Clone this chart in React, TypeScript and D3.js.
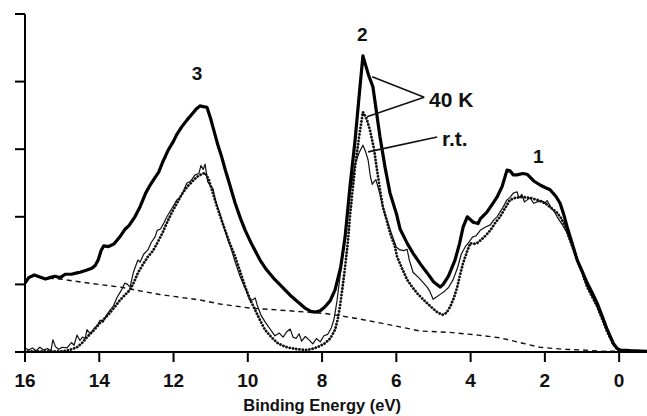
import React from "react";
import * as d3 from "d3";

// Binding energy (eV) vs intensity (arb. units; one y tick = 1 unit)
const xTicks = [16, 14, 12, 10, 8, 6, 4, 2, 0];
const yTicks = [0, 1, 2, 3, 4, 5];
const xLabel = "Binding Energy (eV)";

// 40 K spectrum (thick solid)
const spectrum40KBold: [number, number][] = [
  [16.0,1.02],[15.9,1.10],[15.75,1.14],[15.6,1.11],[15.45,1.08],[15.33,1.10],[15.2,1.12],[15.05,1.10],[14.92,1.15],[14.75,1.15],[14.6,1.17],[14.52,1.18],[14.35,1.21],[14.2,1.24],[14.11,1.28],[14.03,1.36],[13.95,1.50],[13.88,1.57],[13.75,1.56],[13.6,1.60],[13.45,1.70],[13.3,1.82],[13.2,1.87],[13.04,2.00],[12.9,2.15],[12.75,2.35],[12.63,2.47],[12.5,2.58],[12.4,2.66],[12.3,2.80],[12.15,2.98],[12.0,3.12],[11.91,3.22],[11.78,3.33],[11.64,3.43],[11.5,3.52],[11.38,3.60],[11.29,3.64],[11.2,3.63],[11.1,3.62],[11.0,3.45],[10.94,3.33],[10.8,3.05],[10.7,2.88],[10.61,2.70],[10.5,2.50],[10.34,2.20],[10.2,1.98],[10.07,1.80],[9.9,1.60],[9.67,1.36],[9.5,1.22],[9.27,1.07],[9.05,0.95],[8.86,0.84],[8.65,0.74],[8.46,0.65],[8.3,0.60],[8.19,0.59],[8.05,0.61],[7.92,0.67],[7.78,0.76],[7.65,0.92],[7.5,1.25],[7.38,1.70],[7.25,2.44],[7.11,3.14],[7.0,3.8],[6.90,4.38],[6.75,4.10],[6.63,3.92],[6.44,3.18],[6.3,2.72],[6.17,2.35],[6.0,2.05],[5.90,1.82],[5.7,1.60],[5.55,1.46],[5.35,1.30],[5.17,1.17],[5.0,1.04],[4.82,0.96],[4.74,1.00],[4.6,1.12],[4.42,1.36],[4.3,1.60],[4.2,1.85],[4.09,2.00],[3.93,1.92],[3.80,1.90],[3.74,1.97],[3.56,2.07],[3.4,2.20],[3.29,2.29],[3.15,2.45],[3.02,2.69],[2.94,2.68],[2.85,2.62],[2.75,2.62],[2.6,2.64],[2.48,2.63],[2.3,2.53],[2.13,2.47],[1.98,2.43],[1.86,2.40],[1.7,2.30],[1.59,2.20],[1.5,2.05],[1.40,1.85],[1.25,1.58],[1.13,1.36],[1.0,1.20],[0.86,1.02],[0.72,0.87],[0.59,0.72],[0.45,0.52],[0.32,0.33],[0.16,0.13],[0.05,0.05],[-0.03,0.03],[-0.3,0.02],[-0.75,0.01]
];

// 40 K spectrum (dotted)
const spectrum40KDotted: [number, number][] = [
  [16.0,0.01],[15.5,0.01],[15.0,0.01],[14.8,0.03],[14.6,0.07],[14.45,0.14],[14.33,0.22],[14.15,0.32],[13.98,0.43],[13.85,0.50],[13.71,0.58],[13.58,0.67],[13.44,0.77],[13.3,0.85],[13.17,0.92],[13.05,1.05],[12.96,1.17],[12.82,1.30],[12.69,1.41],[12.55,1.50],[12.44,1.61],[12.3,1.76],[12.18,1.91],[12.05,2.06],[11.91,2.20],[11.78,2.33],[11.64,2.44],[11.5,2.52],[11.37,2.59],[11.25,2.63],[11.15,2.65],[11.05,2.55],[10.94,2.35],[10.8,2.10],[10.61,1.80],[10.48,1.60],[10.34,1.41],[10.2,1.18],[10.07,0.96],[9.94,0.78],[9.80,0.62],[9.67,0.47],[9.54,0.33],[9.35,0.21],[9.19,0.13],[9.0,0.08],[8.86,0.06],[8.65,0.04],[8.46,0.03],[8.3,0.04],[8.19,0.06],[8.05,0.09],[7.92,0.13],[7.78,0.20],[7.65,0.33],[7.58,0.48],[7.52,0.67],[7.45,0.95],[7.38,1.26],[7.3,1.65],[7.25,2.00],[7.18,2.38],[7.11,2.74],[7.0,3.20],[6.90,3.55],[6.8,3.45],[6.71,3.28],[6.6,3.00],[6.52,2.69],[6.44,2.40],[6.36,2.14],[6.25,1.93],[6.17,1.76],[6.05,1.58],[5.98,1.41],[5.85,1.24],[5.71,1.07],[5.57,0.96],[5.44,0.87],[5.3,0.79],[5.17,0.72],[5.03,0.65],[4.90,0.59],[4.80,0.56],[4.74,0.55],[4.65,0.58],[4.55,0.67],[4.45,0.80],[4.36,0.96],[4.28,1.15],[4.20,1.32],[4.1,1.48],[4.01,1.61],[3.9,1.60],[3.8,1.62],[3.74,1.65],[3.6,1.72],[3.47,1.80],[3.35,1.90],[3.21,2.00],[3.08,2.12],[2.94,2.25],[2.8,2.28],[2.67,2.29],[2.55,2.29],[2.40,2.28],[2.2,2.25],[1.99,2.20],[1.85,2.14],[1.67,2.06],[1.55,1.97],[1.45,1.85],[1.3,1.62],[1.13,1.36],[1.0,1.18],[0.86,0.96],[0.72,0.81],[0.59,0.67],[0.45,0.48],[0.32,0.30],[0.16,0.12],[0.05,0.04],[-0.03,0.02],[-0.4,0.01],[-0.75,0.01]
];

// room temperature spectrum (thin solid)
const spectrumRT: [number, number][] = [
  [16.0,0.06],[15.9,0.03],[15.8,0.06],[15.7,0.02],[15.6,0.07],[15.5,0.03],[15.4,0.05],[15.3,0.02],[15.25,0.18],[15.18,0.08],[15.1,0.04],[15.0,0.07],[14.87,0.06],[14.75,0.14],[14.68,0.10],[14.6,0.25],[14.52,0.17],[14.45,0.22],[14.38,0.20],[14.33,0.33],[14.25,0.27],[14.15,0.34],[14.05,0.40],[13.98,0.47],[13.9,0.44],[13.8,0.55],[13.71,0.62],[13.62,0.68],[13.52,0.81],[13.42,0.90],[13.31,1.02],[13.24,1.00],[13.17,0.96],[13.08,1.18],[12.96,1.36],[12.9,1.33],[12.8,1.45],[12.69,1.51],[12.6,1.62],[12.5,1.70],[12.44,1.80],[12.35,1.82],[12.25,1.92],[12.18,2.00],[12.05,2.12],[11.91,2.25],[11.8,2.30],[11.72,2.40],[11.64,2.50],[11.55,2.52],[11.42,2.62],[11.32,2.64],[11.26,2.76],[11.2,2.70],[11.15,2.78],[11.08,2.52],[11.0,2.45],[10.94,2.42],[10.85,2.20],[10.75,2.05],[10.65,1.85],[10.55,1.68],[10.48,1.58],[10.35,1.35],[10.21,1.12],[10.1,0.98],[10.0,0.85],[9.94,0.76],[9.85,0.78],[9.8,0.80],[9.75,0.70],[9.65,0.55],[9.54,0.45],[9.45,0.38],[9.35,0.30],[9.27,0.24],[9.15,0.28],[9.05,0.22],[8.95,0.30],[8.86,0.34],[8.78,0.22],[8.7,0.20],[8.62,0.27],[8.55,0.16],[8.45,0.23],[8.35,0.18],[8.25,0.12],[8.15,0.20],[8.05,0.15],[7.95,0.24],[7.85,0.26],[7.75,0.36],[7.68,0.48],[7.6,0.75],[7.52,1.10],[7.45,1.42],[7.38,1.76],[7.3,2.15],[7.2,2.50],[7.11,2.78],[7.0,2.95],[6.90,3.06],[6.82,2.95],[6.76,2.84],[6.7,2.60],[6.65,2.48],[6.6,2.52],[6.55,2.55],[6.45,2.35],[6.36,2.14],[6.25,1.95],[6.11,1.72],[6.0,1.55],[5.9,1.51],[5.8,1.50],[5.71,1.52],[5.65,1.36],[5.55,1.18],[5.4,1.10],[5.3,1.04],[5.17,0.96],[5.1,0.90],[5.01,0.78],[4.9,0.82],[4.8,0.86],[4.7,0.90],[4.6,0.95],[4.47,1.07],[4.35,1.25],[4.25,1.45],[4.15,1.55],[4.05,1.62],[3.95,1.70],[3.85,1.72],[3.74,1.80],[3.6,1.85],[3.47,1.88],[3.38,1.95],[3.29,2.00],[3.15,2.12],[3.02,2.25],[2.95,2.28],[2.85,2.35],[2.75,2.37],[2.7,2.28],[2.62,2.33],[2.55,2.22],[2.48,2.25],[2.4,2.28],[2.3,2.20],[2.21,2.22],[2.1,2.24],[2.0,2.20],[1.94,2.24],[1.85,2.15],[1.75,2.08],[1.67,2.00],[1.55,1.90],[1.40,1.76],[1.25,1.55],[1.13,1.36],[1.0,1.18],[0.86,0.96],[0.72,0.82],[0.59,0.67],[0.45,0.48],[0.32,0.30],[0.16,0.12],[0.05,0.05],[-0.03,0.03],[-0.2,0.01],[-0.4,0.02],[-0.75,0.01]
];

// background (dashed)
const background: [number, number][] = [
  [15.6,1.10],[15.06,1.08],[14.3,1.02],[13.44,0.96],[12.37,0.85],[11.29,0.77],[10.75,0.71],[9.94,0.65],[8.9,0.61],[7.92,0.57],[7.11,0.50],[6.44,0.43],[5.8,0.36],[5.36,0.31],[4.55,0.29],[3.8,0.25],[3.21,0.21],[2.6,0.13],[2.13,0.07],[1.5,0.04],[1.0,0.03],[0.4,0.01],[-0.03,0.01]
];

// peak labels [text, energy, intensity]
const peakLabels: [string, number, number][] = [
  ["3", 11.37, 4.02],
  ["2", 6.92, 4.6],
  ["1", 2.18, 2.8],
];

const W = 647;
const H = 416;
const FONT = "'Liberation Sans', Arial, Helvetica, sans-serif";

export default function App() {
  const x = d3.scaleLinear().domain([16, -0.75]).range([25, 647]);
  const y = d3.scaleLinear().domain([0, 5]).range([352, 14]);
  const line = d3
    .line<[number, number]>()
    .x((d) => x(d[0]))
    .y((d) => y(d[1]))
    .curve(d3.curveLinear);

  const [x0, x1] = x.range();
  const [yb, yt] = y.range();

  return (
    <svg
      width={W}
      height={H}
      viewBox={`0 0 ${W} ${H}`}
      style={{ position: "absolute", left: 0, top: 0, background: "#fff" }}
      fontFamily={FONT}
    >
      <rect x={0} y={0} width={W} height={H} fill="#fff" />
      {/* curves */}
      <path d={line(background) || ""} fill="none" stroke="#111" strokeWidth={1.4} strokeDasharray="5 4" />
      <path d={line(spectrumRT) || ""} fill="none" stroke="#111" strokeWidth={1.2} strokeLinejoin="round" />
      <path
        d={line(spectrum40KDotted) || ""}
        fill="none"
        stroke="#111"
        strokeWidth={2.8}
        strokeDasharray="0.1 3.2"
        strokeLinecap="round"
      />
      <path d={line(spectrum40KBold) || ""} fill="none" stroke="#000" strokeWidth={3.2} strokeLinejoin="round" />

      {/* axes */}
      <line x1={x0} x2={x1} y1={yb} y2={yb} stroke="#000" strokeWidth={2} />
      <line x1={x0} x2={x0} y1={yb} y2={yt} stroke="#000" strokeWidth={2} />
      {xTicks.map((t) => (
        <g key={"x" + t}>
          <line x1={x(t)} x2={x(t)} y1={yb} y2={yb + 10} stroke="#000" strokeWidth={2} />
          <text x={x(t)} y={387} textAnchor="middle" fontSize={19} fontWeight="bold" fill="#111">
            {t}
          </text>
        </g>
      ))}
      {yTicks.map((t) => (
        <line key={"y" + t} x1={x0 - 10} x2={x0} y1={y(t)} y2={y(t)} stroke="#000" strokeWidth={2} />
      ))}
      <text x={(x(16) + x(0)) / 2} y={411} textAnchor="middle" fontSize={16.5} fontWeight="bold" fill="#111">
        {xLabel}
      </text>

      {/* annotations */}
      {peakLabels.map(([s, e, v]) => (
        <text key={s} x={x(e)} y={y(v)} textAnchor="middle" fontSize={19} fontWeight="bold" fill="#111">
          {s}
        </text>
      ))}
      <line x1={x(6.65)} y1={y(4.07)} x2={x(5.25)} y2={y(3.77)} stroke="#111" strokeWidth={1.6} />
      <line x1={x(6.79)} y1={y(3.48)} x2={x(5.25)} y2={y(3.77)} stroke="#111" strokeWidth={1.6} />
      <line x1={x(6.76)} y1={y(2.96)} x2={x(4.9)} y2={y(3.18)} stroke="#111" strokeWidth={1.6} />
      <text x={x(5.12)} y={y(3.62)} fontSize={21} fontWeight="bold" fill="#111">
        40 K
      </text>
      <text x={x(4.77)} y={y(3.05)} fontSize={21} fontWeight="bold" fill="#111">
        r.t.
      </text>
    </svg>
  );
}
